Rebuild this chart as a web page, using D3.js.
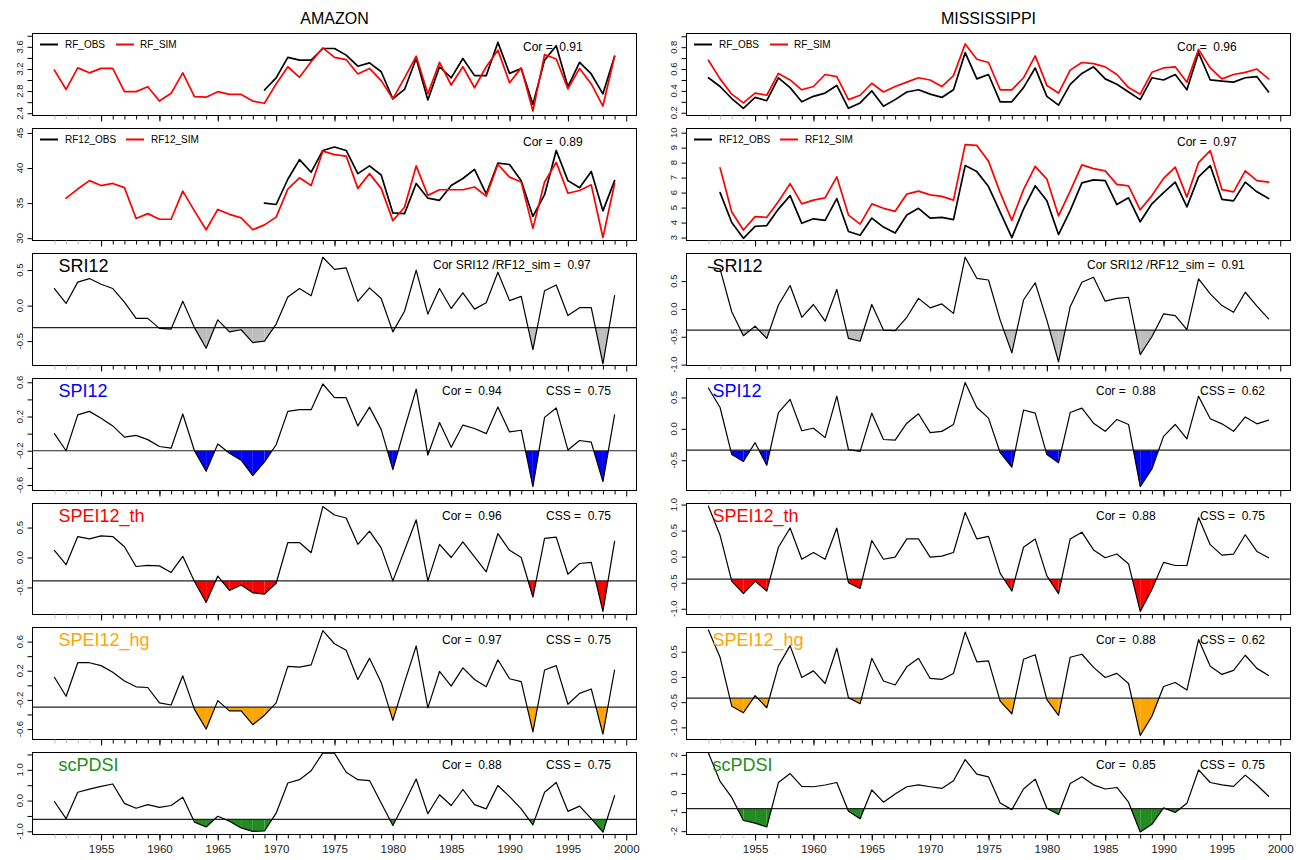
<!DOCTYPE html>
<html><head><meta charset="utf-8">
<script src="https://cdn.jsdelivr.net/npm/d3@7"></script>
<style>
body{margin:0;background:#fff}
svg{display:block}
text{font-family:"Liberation Sans",Arial,Helvetica,sans-serif}
</style>
</head><body>
<script>
// ---------------- DATA ----------------
const years = d3.range(1951, 2000); // 1951..1999
const xTickLabels = [1955,1960,1965,1970,1975,1980,1985,1990,1995,2000];

// AMAZON
const amazonRfSim = [3.18,2.83,3.22,3.13,3.21,3.21,2.79,2.79,2.88,2.62, 2.76,3.13,2.70,2.69,2.79,2.74,2.74,2.62,2.58,2.93, 3.24,3.05,3.33,3.58,3.41,3.37,3.11,3.21,2.99,2.66, 3.04,3.43,2.75,3.32,2.91,3.24,2.86,3.24,3.54,2.95, 3.22,2.44,3.46,3.38,2.84,3.21,2.93,2.53,3.43];
const amazonRfObs = [null,null,null,null,null,null,null,null,null,null, null,null,null,null,null,null,null,null,2.82,3.04, 3.41,3.36,3.36,3.57,3.57,3.45,3.25,3.31,3.15,2.66, 2.83,3.39,2.64,3.24,3.04,3.39,3.08,3.08,3.68,3.12, 3.21,2.56,3.36,3.62,2.88,3.32,3.11,2.75,3.43];
const amazonRf12Sim = [null,35.7,37.0,38.2,37.5,37.8,37.2,32.8,33.5,32.7, 32.7,36.7,33.9,31.2,34.1,33.4,32.9,31.2,31.9,33.0, 37.0,38.6,37.5,42.4,41.9,41.7,37.1,39.2,37.1,32.5, 34.4,40.3,36.1,36.9,36.9,36.9,37.3,36.0,40.5,38.7, 38.0,31.4,38.0,40.8,36.4,36.8,37.6,30.1,37.8];
const amazonRf12Obs = [null,null,null,null,null,null,null,null,null,null, null,null,null,null,null,null,null,null,35.0,34.8, 38.4,41.2,39.4,42.5,43.0,42.5,39.2,40.3,39.0,33.6, 33.5,37.8,35.7,35.4,37.5,38.5,39.8,36.3,40.7,40.5, 38.2,33.1,36.2,42.5,38.2,37.2,39.5,33.9,38.2];
const amazonSri12 = [0.24,0.03,0.33,0.38,0.30,0.24,0.05,-0.18,-0.18,-0.32, -0.33,0.06,-0.31,-0.60,-0.20,-0.37,-0.34,-0.52,-0.50,-0.26, 0.12,0.24,0.14,0.68,0.51,0.53,0.06,0.25,0.10,-0.37, -0.08,0.50,-0.12,0.24,-0.04,0.18,-0.05,0.04,0.47,0.07, 0.13,-0.62,0.21,0.29,-0.14,-0.03,-0.03,-0.82,0.14];
const amazonSpi12 = [0.00,-0.20,0.22,0.26,0.18,0.09,-0.04,-0.02,-0.07,-0.15, -0.17,0.23,-0.20,-0.44,-0.12,-0.23,-0.31,-0.49,-0.33,-0.13, 0.26,0.28,0.28,0.58,0.42,0.42,0.09,0.31,0.05,-0.42, 0.06,0.52,-0.25,0.13,-0.16,0.10,0.06,0.00,0.31,0.02, 0.04,-0.62,0.19,0.30,-0.19,-0.08,-0.10,-0.56,0.22];
const amazonSpei12Th = [0.12,-0.12,0.35,0.31,0.36,0.35,0.18,-0.15,-0.13,-0.14, -0.25,0.02,-0.40,-0.75,-0.31,-0.55,-0.46,-0.59,-0.61,-0.43, 0.25,0.25,0.08,0.85,0.71,0.66,0.22,0.44,0.16,-0.39, 0.12,0.63,-0.39,0.22,0.00,0.26,0.01,-0.24,0.40,0.12, 0.00,-0.66,0.32,0.34,-0.28,-0.10,-0.08,-0.90,0.27];
const amazonSpei12Hg = [0.11,-0.15,0.31,0.31,0.27,0.18,0.06,-0.02,-0.03,-0.24, -0.27,0.13,-0.33,-0.60,-0.21,-0.35,-0.35,-0.54,-0.41,-0.24, 0.26,0.25,0.28,0.75,0.57,0.48,0.08,0.37,0.04,-0.48, 0.04,0.54,-0.31,0.19,-0.01,0.24,0.08,-0.02,0.35,0.09, 0.05,-0.64,0.21,0.27,-0.26,-0.11,-0.05,-0.67,0.21];
const amazonScpdsi = [-0.03,-0.59,0.27,0.37,0.46,0.54,-0.09,-0.25,-0.13,-0.22, -0.16,0.11,-0.70,-0.86,-0.51,-0.67,-0.89,-1.00,-0.99,-0.41, 0.57,0.68,0.97,1.55,1.54,0.92,0.68,0.65,-0.08,-0.81, -0.08,0.70,-0.43,0.19,-0.16,0.36,-0.13,-0.27,0.49,0.13, -0.27,-0.79,0.27,0.59,-0.35,-0.18,-0.59,-1.03,0.16];
const amazonThresholds = [-0.31,-0.20,-0.39,-0.30,-0.61];
const amazonCor = ["0.91","0.89","0.97","0.94","0.96","0.97","0.88"];
const amazonCss = ["0.75","0.75","0.75","0.75"];
const amazonYLimits = [[2.35,3.85],[29.6,45.7],[-0.85,0.74],[-0.67,0.65],[-0.96,0.91],[-0.75,0.80],[-1.12,1.58]];
const amazonYTicks = [[2.4,2.6,2.8,3.0,3.2,3.4,3.6,3.8],[30,35,40,45],[-0.5,0,0.5],[-0.6,-0.4,-0.2,0,0.2,0.4,0.6],[-0.5,0,0.5],[-0.6,-0.4,-0.2,0,0.2,0.4,0.6],[-1,-0.5,0,0.5,1,1.5]];
const amazonYLabels = [[2.4,2.8,3.2,3.6],[30,35,40,45],[-0.5,0,0.5],[-0.6,-0.2,0.2,0.6],[-0.5,0,0.5],[-0.6,-0.2,0.2,0.6],[-1,0,1]];
const amazonYFormats = [".1f","d",".1f",".1f",".1f",".1f",".1f"];

// MISSISSIPPI
const missRfObs = [0.52,0.44,0.33,0.24,0.34,0.31,0.52,0.43,0.30,0.35, 0.38,0.45,0.24,0.29,0.40,0.26,0.32,0.39,0.41,0.37, 0.34,0.41,0.75,0.51,0.55,0.30,0.30,0.43,0.61,0.35, 0.27,0.46,0.56,0.62,0.51,0.46,0.39,0.32,0.52,0.50, 0.55,0.41,0.75,0.50,0.49,0.48,0.52,0.53,0.39];
const missRfSim = [0.68,0.51,0.37,0.29,0.38,0.36,0.56,0.50,0.41,0.44, 0.55,0.53,0.32,0.36,0.47,0.39,0.44,0.48,0.52,0.50, 0.44,0.54,0.83,0.69,0.66,0.41,0.41,0.52,0.72,0.45, 0.38,0.59,0.66,0.65,0.62,0.55,0.43,0.37,0.57,0.61, 0.62,0.48,0.78,0.61,0.51,0.55,0.57,0.60,0.51];
const missRf12Sim = [null,7.65,4.7,3.5,4.4,4.35,5.4,6.6,5.25,5.5, 5.65,7.05,4.5,3.9,5.25,4.95,4.75,5.9,6.1,5.85, 5.75,5.5,9.2,9.15,8.1,6.0,4.15,6.2,7.75,6.9, 4.45,6.1,7.85,7.6,7.45,6.55,6.45,4.85,5.8,6.95, 7.7,5.7,8.0,8.8,6.2,6.05,7.45,6.8,6.7];
const missRf12Obs = [null,6.0,4.0,2.95,3.75,3.8,4.9,5.8,3.95,4.25, 4.15,5.6,3.4,3.15,4.3,3.7,3.3,4.5,4.95,4.3, 4.35,4.2,7.8,7.4,6.4,4.7,3.0,4.9,6.45,5.45, 3.2,4.8,6.65,6.85,6.8,5.2,5.65,4.05,5.25,6.0, 6.7,5.05,7.05,7.8,5.55,5.45,6.7,6.05,5.6];
const missSri12 = [0.75,0.72,-0.05,-0.48,-0.31,-0.53,0.07,0.42,-0.15,0.08, -0.22,0.35,-0.53,-0.58,0.08,-0.38,-0.39,-0.15,0.19,0.02, 0.09,-0.08,0.93,0.55,0.52,-0.20,-0.79,0.16,0.47,-0.20, -0.95,0.04,0.48,0.57,0.14,0.19,0.21,-0.82,-0.50,-0.09, -0.12,-0.37,0.54,0.27,0.06,-0.06,0.30,0.05,-0.18];
const missSpi12 = [0.65,0.34,-0.41,-0.52,-0.22,-0.58,0.26,0.47,-0.03,0.01, -0.14,0.52,-0.33,-0.36,0.25,-0.17,-0.18,0.09,0.24,-0.06, -0.04,0.07,0.74,0.34,0.17,-0.38,-0.61,0.30,0.25,-0.41, -0.54,0.26,0.33,0.09,-0.04,0.15,0.07,-0.92,-0.64,-0.12, 0.07,-0.16,0.52,0.16,0.08,-0.04,0.19,0.08,0.14];
const missSpei12Th = [0.97,0.41,-0.47,-0.71,-0.47,-0.66,0.18,0.55,-0.05,0.08, -0.05,0.55,-0.50,-0.61,0.31,-0.05,-0.01,0.34,0.34,-0.01, 0.01,0.08,0.85,0.34,0.39,-0.32,-0.66,0.18,0.34,-0.37, -0.71,0.34,0.47,0.13,-0.02,0.05,-0.14,-1.05,-0.63,-0.11, -0.17,-0.17,0.75,0.23,0.03,0.05,0.42,0.10,-0.02];
const missSpei12Hg = [0.93,0.39,-0.58,-0.71,-0.37,-0.61,0.22,0.62,-0.01,0.12, -0.13,0.57,-0.41,-0.53,0.37,-0.08,-0.16,0.20,0.37,-0.03, -0.05,0.07,0.89,0.30,0.32,-0.48,-0.73,0.35,0.44,-0.45, -0.76,0.39,0.45,0.19,-0.01,0.07,-0.13,-1.16,-0.78,-0.19, -0.11,-0.26,0.74,0.21,0.05,0.13,0.43,0.17,0.03];
const missScpdsi = [2.10,0.61,-0.23,-1.44,-1.58,-1.78,0.55,1.02,0.35,0.33, 0.42,0.55,-0.95,-1.35,0.16,-0.48,-0.05,0.33,0.43,0.33, 0.24,0.64,1.75,0.99,0.85,-0.52,-0.87,0.21,0.73,-0.80, -1.13,0.50,0.85,0.43,0.21,0.29,-0.48,-2.04,-1.64,-0.78, -1.02,-0.54,1.21,0.55,0.43,0.35,0.94,0.42,-0.17];
const missThresholds = [-0.38,-0.34,-0.43,-0.42,-0.82];
const missCor = ["0.96","0.97","0.91","0.88","0.88","0.88","0.85"];
const missCss = ["0.62","0.75","0.62","0.75"];
const missYLimits = [[0.17,0.93],[2.77,10.31],[-1.025,1.005],[-0.99,0.81],[-1.12,1.03],[-1.25,0.99],[-2.2,2.15]];
const missYTicks = [[0.2,0.3,0.4,0.5,0.6,0.7,0.8,0.9],[3,4,5,6,7,8,9,10],[-1,-0.5,0,0.5],[-0.5,0,0.5],[-1,-0.5,0,0.5,1],[-1,-0.5,0,0.5],[-2,-1,0,1,2]];
const missYLabels = [[0.2,0.4,0.6,0.8],[3,4,5,6,7,8,9,10],[-1,-0.5,0,0.5],[-0.5,0,0.5],[-1,-0.5,0,0.5,1],[-1,-0.5,0,0.5],[-2,-1,0,1,2]];
const missYFormats = [".1f","d",".1f",".1f",".1f",".1f","d"];

const indexNames = ["SRI12","SPI12","SPEI12_th","SPEI12_hg","scPDSI"];
const indexColors = ["#000000","#0000ff","#ff0000","#ffa500","#228b22"];
const fillColors = ["#bebebe","#0000ff","#ff0000","#ffa500","#228b22"];

// ---------------- LAYOUT ----------------
const W = 1298, H = 860;
const FONT = '"Liberation Sans", Arial, Helvetica, sans-serif';
const colBoxes = [[32, 637], [686, 1291]];
const rowBoxes = [[33,116],[128,241],[253,366],[378,491],[503,615],[627,740],[752,835]];

const svg = d3.select("body").append("svg").attr("width", W).attr("height", H)
  .style("font-family", FONT);
svg.append("rect").attr("width", W).attr("height", H).attr("fill", "#fff");

const basins = [
  {title:"AMAZON", box:colBoxes[0], rf:[amazonRfObs, amazonRfSim], rf12:[amazonRf12Obs, amazonRf12Sim],
   idx:[amazonSri12, amazonSpi12, amazonSpei12Th, amazonSpei12Hg, amazonScpdsi],
   thr:amazonThresholds, cor:amazonCor, css:amazonCss, lim:amazonYLimits, ticks:amazonYTicks, labels:amazonYLabels, fmts:amazonYFormats},
  {title:"MISSISSIPPI", box:colBoxes[1], rf:[missRfObs, missRfSim], rf12:[missRf12Obs, missRf12Sim],
   idx:[missSri12, missSpi12, missSpei12Th, missSpei12Hg, missScpdsi],
   thr:missThresholds, cor:missCor, css:missCss, lim:missYLimits, ticks:missYTicks, labels:missYLabels, fmts:missYFormats}
];

let clipN = 0;
function drawPanel(xs, ri, p) {
  const [top, bottom] = rowBoxes[ri];
  const [bx0, bx1] = xs.range();
  const y = d3.scaleLinear().domain(p.lim).range([bottom, top]);
  const g = svg.append("g");
  const cid = "clip" + (clipN++);
  svg.append("clipPath").attr("id", cid).append("rect")
    .attr("x", bx0).attr("y", top).attr("width", bx1 - bx0).attr("height", bottom - top);
  const plot = g.append("g").attr("clip-path", `url(#${cid})`);

  if (p.threshold != null) {
    const t = p.threshold, v = p.series[0].values;
    const polys = [];
    for (let i = 0; i < years.length - 1; i++) {
      const a = v[i], b = v[i + 1];
      if (a == null || b == null) continue;
      if (a >= t && b >= t) continue;
      const xa = years[i], xb = years[i + 1];
      let pts;
      if (a < t && b < t) pts = [[xa, t], [xa, a], [xb, b], [xb, t]];
      else if (a < t) { const xc = xa + (t - a) / (b - a) * (xb - xa); pts = [[xa, t], [xa, a], [xc, t]]; }
      else { const xc = xa + (t - a) / (b - a) * (xb - xa); pts = [[xc, t], [xb, b], [xb, t]]; }
      polys.push(pts);
    }
    plot.selectAll("polygon.f").data(polys).join("polygon").attr("class", "f")
      .attr("points", d => d.map(q => xs(q[0]) + "," + y(q[1])).join(" "))
      .attr("fill", p.fill);
    plot.append("line").attr("x1", bx0).attr("x2", bx1).attr("y1", y(t)).attr("y2", y(t))
      .attr("stroke", "#222").attr("stroke-width", 1.2);
  }

  p.series.forEach(s => {
    const line = d3.line().defined(d => d[1] != null).x(d => xs(d[0])).y(d => y(d[1]));
    plot.append("path").datum(years.map((yr, i) => [yr, s.values[i]]))
      .attr("d", line).attr("fill", "none").attr("stroke", s.color)
      .attr("stroke-width", s.width).attr("stroke-linejoin", "round").attr("stroke-linecap", "round");
  });

  // box
  g.append("rect").attr("x", bx0 + 0.5).attr("y", top + 0.5).attr("width", bx1 - bx0 - 1).attr("height", bottom - top - 1)
    .attr("fill", "none").attr("stroke", "#000").attr("stroke-width", 1);

  // y axis
  const yAx = g.append("g").attr("transform", `translate(${bx0 + 0.5},0)`)
    .call(d3.axisLeft(y).tickValues(p.ticks).tickSize(5).tickFormat(""));
  yAx.select(".domain").remove();
  yAx.selectAll(".tick line").attr("stroke", "#000");
  const f = d3.format(p.fmt);
  g.selectAll("text.yl").data(p.labels).join("text").attr("class", "yl")
    .attr("transform", d => `translate(${bx0 - 9},${y(d)}) rotate(-90)`)
    .attr("text-anchor", "middle").attr("font-size", 9.5).attr("fill", "#222")
    .text(d => f(d).replace("\u2212", "-"));

  // x axis ticks below the panel
  const xMinor = g.append("g").attr("transform", `translate(0,${bottom - 0.5})`)
    .call(d3.axisBottom(xs).tickValues(years).tickSize(4).tickFormat(""));
  xMinor.select(".domain").remove();
  xMinor.selectAll(".tick line").attr("stroke", d => d < 1955 ? "#bdbdbd" : "#000");
  const xMajor = g.append("g").attr("transform", `translate(0,${bottom - 0.5})`)
    .call(d3.axisBottom(xs).tickValues(xTickLabels).tickSize(6).tickPadding(4)
      .tickFormat(p.xlabels ? d3.format("d") : ""));
  xMajor.select(".domain").remove();
  xMajor.selectAll(".tick line").attr("stroke", "#000");
  xMajor.selectAll("text").attr("font-size", 11.5).attr("font-family", FONT).attr("fill", "#222");

  // texts
  (p.texts || []).forEach(t => {
    g.append("text").attr("x", t.x).attr("y", top + t.dy).attr("font-size", t.size)
      .attr("fill", t.color || "#000").style("white-space", "pre").text(t.text);
  });
  (p.legend || []).forEach(l => {
    const yy = top + 11.5;
    g.append("line").attr("x1", bx0 + l.s0).attr("x2", bx0 + l.s1).attr("y1", yy).attr("y2", yy)
      .attr("stroke", l.color).attr("stroke-width", 2);
    g.append("text").attr("x", bx0 + l.t).attr("y", yy + 3.5).attr("font-size", 10).attr("fill", "#000").text(l.label);
  });
}

basins.forEach(b => {
  const [bx0, bx1] = b.box;
  const xs = d3.scaleLinear().domain([1949.08, 2000.92]).range([bx0, bx1]);
  // title
  svg.append("text").attr("x", (bx0 + bx1) / 2).attr("y", 24).attr("text-anchor", "middle")
    .attr("font-size", 16).attr("fill", "#000").text(b.title);

  // RF panel
  drawPanel(xs, 0, {lim:b.lim[0], ticks:b.ticks[0], labels:b.labels[0], fmt:b.fmts[0],
    series:[{values:b.rf[0], color:"#000", width:1.7}, {values:b.rf[1], color:"#ff0000", width:1.7}],
    legend:[{s0:8, s1:26, t:33, color:"#000", label:"RF_OBS"}, {s0:84, s1:102, t:108, color:"#ff0000", label:"RF_SIM"}],
    texts:[{x:bx0 + 491, dy:18, size:12, text:"Cor =  " + b.cor[0]}]});
  // RF12 panel
  drawPanel(xs, 1, {lim:b.lim[1], ticks:b.ticks[1], labels:b.labels[1], fmt:b.fmts[1],
    series:[{values:b.rf12[0], color:"#000", width:1.7}, {values:b.rf12[1], color:"#ff0000", width:1.7}],
    legend:[{s0:8, s1:26, t:33, color:"#000", label:"RF12_OBS"}, {s0:94, s1:112, t:119, color:"#ff0000", label:"RF12_SIM"}],
    texts:[{x:bx0 + 491, dy:18, size:12, text:"Cor =  " + b.cor[1]}]});
  // index panels
  b.idx.forEach((vals, k) => {
    const ri = k + 2;
    const texts = [{x:xs(1951) + 4, dy:19, size:18, color:indexColors[k], text:indexNames[k]}];
    if (k === 0) texts.push({x:bx0 + 401, dy:16, size:12, text:"Cor SRI12 /RF12_sim =  " + b.cor[2]});
    else {
      texts.push({x:bx0 + 410, dy:17, size:12, text:"Cor =  " + b.cor[ri]});
      texts.push({x:bx0 + 514, dy:17, size:12, text:"CSS =  " + b.css[k - 1]});
    }
    drawPanel(xs, ri, {lim:b.lim[ri], ticks:b.ticks[ri], labels:b.labels[ri], fmt:b.fmts[ri],
      series:[{values:vals, color:"#000", width:1.2}],
      threshold:b.thr[k], fill:fillColors[k], texts:texts, xlabels: ri === 6});
  });
});
</script>
</body></html>
